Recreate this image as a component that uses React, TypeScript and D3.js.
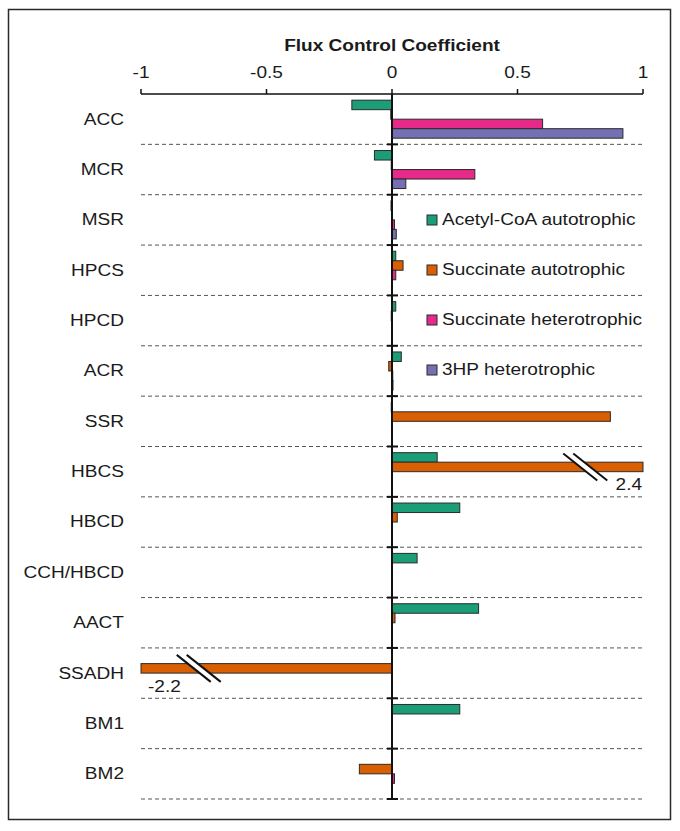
import * as d3 from "d3";

const categories = ["ACC", "MCR", "MSR", "HPCS", "HPCD", "ACR", "SSR", "HBCS", "HBCD", "CCH/HBCD", "AACT", "SSADH", "BM1", "BM2"];
const seriesNames = ["Acetyl-CoA autotrophic", "Succinate autotrophic", "Succinate heterotrophic", "3HP heterotrophic"];
const acetylAuto = [-0.16, -0.07, -0.004, 0.015, 0.015, 0.037, -0.003, 0.18, 0.27, 0.1, 0.345, 0, 0.27, 0];
const succAuto = [-0.005, -0.003, 0, 0.044, -0.003, -0.013, 0.87, 2.4, 0.021, 0, 0.012, -2.2, 0, -0.13];
const succHetero = [0.6, 0.33, 0.01, 0.015, 0, 0.003, 0, 0, 0, 0, 0, 0, 0, 0.01];
const hpHetero = [0.92, 0.055, 0.017, 0, 0, 0.004, 0, 0, 0, 0, 0, 0, 0, 0];
const xTicks = [-1, -0.5, 0, 0.5, 1];
const colors = ["#1b9e77", "#d95f02", "#e7298a", "#7570b3"];

const allSeries = [acetylAuto, succAuto, succHetero, hpHetero];

const FONT = "'Liberation Sans', Arial, sans-serif";
const SX = 1.19; // the reference text is a little stretched sideways

const X_RANGE = [141, 643];
const Y_RANGE = [94, 799];

const Label = ({ x, y, anchor = "start", size = 16, bold = false, children }: any) => (
  <text
    transform={`translate(${x},${y}) scale(${SX},1)`}
    textAnchor={anchor}
    dominantBaseline="central"
    fontSize={size}
    fontWeight={bold ? "bold" : "normal"}
    fontFamily={FONT}
    fill="#1a1a1a"
  >
    {children}
  </text>
);

export default function App() {
  const xScale = d3.scaleLinear().domain([-1, 1]).range(X_RANGE);
  const yScale = d3.scaleBand().domain(categories).range(Y_RANGE).padding(0);
  const inner = d3
    .scaleBand()
    .domain(seriesNames)
    .range([0, yScale.bandwidth()])
    .paddingInner(0)
    .paddingOuter(0.65);

  const clip = (v: number) => Math.max(-1, Math.min(1, v));

  const bars = categories.map((cat, ci) => (
    <g key={cat}>
      {allSeries.map((vals, si) => {
        const v = clip(vals[ci]);
        if (vals[ci] === 0) return null;
        const y = (yScale(cat) ?? 0) + (inner(seriesNames[si]) ?? 0);
        const x0 = xScale(Math.min(0, v));
        const x1 = xScale(Math.max(0, v));
        return (
          <rect
            key={si}
            x={x0}
            y={y}
            width={Math.max(0.5, x1 - x0)}
            height={inner.bandwidth()}
            fill={colors[si]}
            stroke="#2b2b2b"
            strokeWidth={1}
          />
        );
      })}
    </g>
  ));

  // axis breaks for the two values beyond the axis range
  const breaks = categories
    .map((cat, ci) => ({ cat, v: succAuto[ci] }))
    .filter((d) => Math.abs(d.v) > 1)
    .map((d) => {
      const bx = xScale(Math.sign(d.v) * 0.77);
      const by = (yScale(d.cat) ?? 0) + (inner(seriesNames[1]) ?? 0) + inner.bandwidth() / 2;
      const dx = 17;
      const dy = 13.5;
      const gap = 10;
      const a1 = [bx - gap / 2 - dx, by - dy];
      const a2 = [bx - gap / 2 + dx, by + dy];
      const b1 = [bx + gap / 2 - dx, by - dy];
      const b2 = [bx + gap / 2 + dx, by + dy];
      const labelX = d.v > 0 ? xScale(1) - 1 : xScale(-1) + 7;
      return (
        <g key={d.cat}>
          <polygon
            points={[a1, a2, b2, b1].map((p) => p.join(",")).join(" ")}
            fill="#ffffff"
          />
          <line x1={a1[0]} y1={a1[1]} x2={a2[0]} y2={a2[1]} stroke="#111" strokeWidth={2} />
          <line x1={b1[0]} y1={b1[1]} x2={b2[0]} y2={b2[1]} stroke="#111" strokeWidth={2} />
          <Label x={labelX} y={by + 18} anchor={d.v > 0 ? "end" : "start"}>
            {d.v}
          </Label>
        </g>
      );
    });

  const boundaries = categories.map((c) => (yScale(c) ?? 0) + yScale.bandwidth());

  return (
    <svg width={680} height={831} style={{ position: "absolute", left: 0, top: 0 }}>
      <rect x={0} y={0} width={680} height={831} fill="#ffffff" />
      <rect x={8.5} y={9.5} width={662} height={810} fill="none" stroke="#2a2a2a" strokeWidth={1.5} />

      <Label x={(X_RANGE[0] + X_RANGE[1]) / 2} y={46} anchor="middle" bold>
        Flux Control Coefficient
      </Label>

      {/* top axis */}
      <line x1={X_RANGE[0]} x2={X_RANGE[1]} y1={Y_RANGE[0]} y2={Y_RANGE[0]} stroke="#111" strokeWidth={1.5} />
      {xTicks.map((t) => (
        <g key={t}>
          <line x1={xScale(t)} x2={xScale(t)} y1={Y_RANGE[0]} y2={Y_RANGE[0] - 5} stroke="#111" strokeWidth={1.5} />
          <Label x={xScale(t)} y={73} anchor="middle">
            {t}
          </Label>
        </g>
      ))}

      {/* dashed separators */}
      {boundaries.map((b, i) => (
        <line
          key={i}
          x1={X_RANGE[0]}
          x2={X_RANGE[1]}
          y1={b}
          y2={b}
          stroke="#555"
          strokeWidth={1}
          strokeDasharray="4,3"
        />
      ))}

      {/* category labels */}
      {categories.map((c) => (
        <Label key={c} x={124} y={(yScale(c) ?? 0) + yScale.bandwidth() / 2} anchor="end">
          {c}
        </Label>
      ))}

      {bars}
      {breaks}

      {/* zero axis */}
      <line x1={xScale(0)} x2={xScale(0)} y1={Y_RANGE[0]} y2={Y_RANGE[1]} stroke="#111" strokeWidth={2} />
      {boundaries.map((b, i) => (
        <line key={i} x1={xScale(0) - 5} x2={xScale(0) + 6} y1={b} y2={b} stroke="#111" strokeWidth={2} />
      ))}

      {/* legend */}
      {seriesNames.map((s, i) => {
        const ly = 220 + i * 50;
        return (
          <g key={s}>
            <rect x={427} y={ly - 5} width={10} height={10} fill={colors[i]} stroke="#2b2b2b" strokeWidth={1} />
            <Label x={442} y={ly}>
              {s}
            </Label>
          </g>
        );
      })}
    </svg>
  );
}
